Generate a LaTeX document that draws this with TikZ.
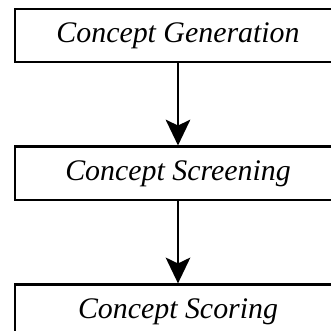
\documentclass[tikz,border=0pt]{standalone}
\usepackage{fontspec}
\setmainfont{Liberation Serif}
\usepackage{tikz}
\usetikzlibrary{arrows.meta,positioning}

\begin{document}
\begin{tikzpicture}[x=0.03cm,y=-0.03cm,
  etapa/.style={draw=black,line width=2.2pt,fill=white,minimum width=9.78cm,minimum height=1.6cm,
    inner sep=0pt,align=center,font=\fontsize{25.5}{30}\selectfont\itshape},
  flecha/.style={line width=1.9pt,-{Stealth[length=22pt,width=21pt,inset=5pt]}}]
\useasboundingbox (0,0) rectangle (331,331);
\clip (0,0) rectangle (331,331);
\node[etapa] (gen) at (178,35.5) {Concept Generation};
\node[etapa,below=2.46cm of gen] (scr) {Concept Screening};
\node[etapa,below=2.46cm of scr] (sco) {Concept Scoring};
\draw[flecha] (gen) -- (scr);
\draw[flecha] (scr) -- (sco);
\end{tikzpicture}
\end{document}
